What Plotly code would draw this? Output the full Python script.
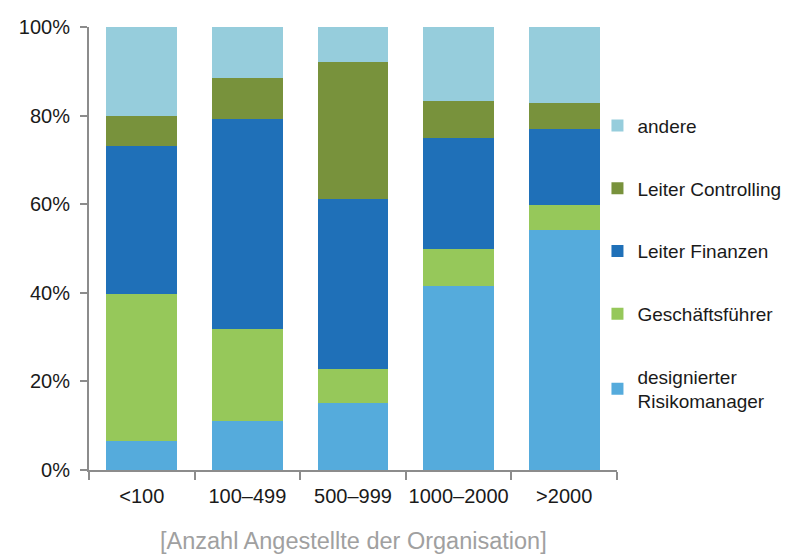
import plotly.graph_objects as go

categories = ["<100", "100–499", "500–999", "1000–2000", ">2000"]
series_names = ["designierter<br>Risikomanager", "Geschäftsführer", "Leiter Finanzen", "Leiter Controlling", "andere"]
risikomanager = [0.065, 0.11, 0.152, 0.415, 0.542]
geschaeftsfuehrer = [0.332, 0.208, 0.076, 0.084, 0.056]
leiter_finanzen = [0.334, 0.474, 0.384, 0.25, 0.172]
leiter_controlling = [0.068, 0.094, 0.309, 0.084, 0.058]
andere = [0.201, 0.114, 0.079, 0.167, 0.172]
colors = ["#55ABDC", "#96C85A", "#1F70B8", "#78923C", "#96CDDC"]
series_values = [risikomanager, geschaeftsfuehrer, leiter_finanzen, leiter_controlling, andere]

fig = go.Figure()
n = len(series_names)
for i, (name, vals, col) in enumerate(zip(series_names, series_values, colors)):
    fig.add_trace(go.Bar(
        x=categories, y=vals, name=name, legendgroup=str(i), legendrank=n - i,
        marker=dict(color=col, line=dict(width=0)),
    ))

font_family = "Liberation Sans, Arial, sans-serif"
fig.update_layout(
    width=797, height=560,
    barmode="stack", bargap=0.33,
    plot_bgcolor="white", paper_bgcolor="white",
    margin=dict(l=81, r=188, t=19, b=98),
    font=dict(family=font_family, size=19, color="#1a1a1a"),
    showlegend=True,
    legend=dict(
        traceorder="grouped", tracegroupgap=35,
        x=0.963, xanchor="left", y=0.82, yanchor="top",
        font=dict(size=19, color="#1a1a1a"),
        bgcolor="rgba(0,0,0,0)",
    ),
    xaxis=dict(
        showgrid=False, showline=True, linecolor="#8c8c8c", linewidth=2,
        ticks="outside", tickson="boundaries", ticklen=8, tickwidth=2, tickcolor="#8c8c8c",
        tickfont=dict(size=20, color="#1a1a1a"), tickangle=0, automargin=False,
        ticklabelstandoff=7,
    ),
    yaxis=dict(
        range=[0, 1], dtick=0.2, tickformat=".0%", automargin=False,
        showgrid=False, showline=True, linecolor="#8c8c8c", linewidth=2,
        ticks="outside", ticklen=7, tickwidth=2, tickcolor="#8c8c8c",
        tickfont=dict(size=20, color="#1a1a1a"), ticklabelstandoff=6,
        zeroline=False,
    ),
    annotations=[dict(
        text="[Anzahl Angestellte der Organisation]",
        xref="paper", yref="paper", x=0.5, y=-0.16, xanchor="center", yanchor="middle",
        showarrow=False, font=dict(size=23.5, color="#a0a0a0"),
    )],
)

fig.write_html("out.html")
